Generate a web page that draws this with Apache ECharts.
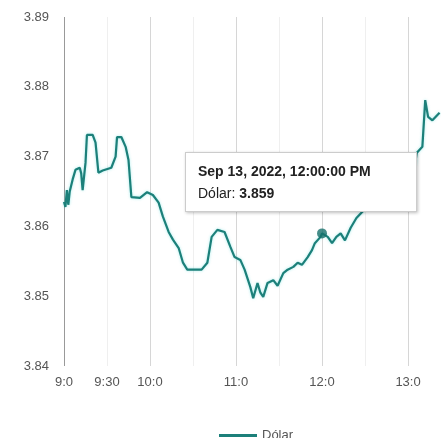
<!DOCTYPE html>
<html>
<head>
<meta charset="utf-8">
<script src="https://cdn.jsdelivr.net/npm/echarts@6/dist/echarts.min.js"></script>
<style>
  html, body { margin: 0; padding: 0; background: #fff; }
  #chart { width: 441px; height: 438px; }
</style>
</head>
<body>
<div id="chart"></div>
<script>
// times of day (Sep 13, 2022) and the dollar quote at each
const times = [
  '9:00', '9:01', '9:02', '9:03', '9:04', '9:06', '9:08', '9:11', '9:12', '9:13', '9:15', '9:16', '9:20',
  '9:22', '9:24', '9:27', '9:33', '9:36', '9:37', '9:40', '9:43', '9:45', '9:47',
  '9:53', '9:58', '10:02', '10:06', '10:09', '10:13', '10:16', '10:20', '10:23', '10:26',
  '10:36', '10:40', '10:43', '10:47', '10:52', '10:56', '10:59', '11:03', '11:06', '11:10',
  '11:12', '11:15', '11:17', '11:19', '11:22', '11:26', '11:29', '11:33', '11:36', '11:40',
  '11:43', '11:46', '11:50', '11:53', '11:55', '11:59', '12:00', '12:04', '12:07', '12:10',
  '12:13', '12:16', '12:20', '12:24', '12:30', '12:40', '12:50', '13:00', '13:05', '13:06',
  '13:10', '13:12', '13:14', '13:17', '13:22'
]
const dolar = [
  3.8635, 3.8628, 3.8652, 3.8631, 3.8650, 3.8667, 3.8681, 3.8684, 3.8676, 3.8652, 3.8691, 3.8731, 3.8731,
  3.8720, 3.8677, 3.8680, 3.8684, 3.8700, 3.8728, 3.8728, 3.8714, 3.8695, 3.8642,
  3.8641, 3.8649, 3.8645, 3.8634, 3.8614, 3.8592, 3.8581, 3.8569, 3.8548, 3.8538,
  3.8538, 3.8548, 3.8585, 3.8595, 3.8592, 3.8571, 3.8556, 3.8552, 3.8538, 3.8513,
  3.8497, 3.8519, 3.8505, 3.8499, 3.8519, 3.8523, 3.8515, 3.8533, 3.8538, 3.8542,
  3.8548, 3.8545, 3.8556, 3.8566, 3.8576, 3.8585, 3.8590, 3.8585, 3.8576, 3.8585,
  3.8590, 3.8580, 3.8598, 3.8612, 3.8625, 3.8640, 3.8660, 3.8675, 3.8690, 3.8705,
  3.8714, 3.8781, 3.8757, 3.8752, 3.8763
]
const yTicks = [3.84, 3.85, 3.86, 3.87, 3.88, 3.89]
const labelledTimes = ['9:00', '9:30', '10:00', '11:00', '12:00', '13:00']
const selectedTime = '12:00'
const seriesName = 'Dólar'

const toMin = (t) => {
  const [h, m] = t.split(':').map(Number)
  return (h - 9) * 60 + m
}
const points = times.map((t, i) => [toMin(t), dolar[i]])
const selIdx = times.indexOf(selectedTime)

const chart = echarts.init(document.getElementById('chart'))
const option = {
  animation: false,
  grid: { left: 64, right: 0, top: 17, bottom: 72 },
  xAxis: {
    type: 'value',
    min: 0,
    max: 263,
    interval: 30,
    axisLine: { show: false },
    axisTick: { show: false },
    axisLabel: {
      color: '#555',
      fontSize: 13,
      fontFamily: 'Liberation Sans',
      margin: 10,
      showMaxLabel: false,
      formatter: (v) => {
        const h = Math.floor(v / 60) + 9
        const m = v % 60
        const full = h + ':' + (m < 10 ? '0' + m : m)
        return labelledTimes.includes(full) ? h + ':' + m : ''
      }
    },
    splitLine: {
      show: true,
      lineStyle: {
        color: ['#999', '#efefef', '#d6d6d6', '#efefef', '#d6d6d6', '#efefef', '#d6d6d6', '#efefef', '#d6d6d6'],
        width: 1
      }
    }
  },
  yAxis: {
    type: 'value',
    min: yTicks[0],
    max: yTicks[yTicks.length - 1],
    interval: 0.01,
    axisLine: { show: false },
    axisTick: { show: false },
    splitLine: { show: false },
    axisLabel: {
      color: '#555',
      fontSize: 13,
      fontFamily: 'Liberation Sans',
      margin: 15,
      formatter: (v) => v.toFixed(2)
    }
  },
  legend: {
    left: 214,
    top: 424,
    icon: 'rect',
    itemWidth: 38,
    itemHeight: 3,
    itemGap: 6,
    textStyle: { color: '#555', fontSize: 13, fontFamily: 'Liberation Sans' },
    data: [seriesName]
  },
  tooltip: {
    trigger: 'item',
    triggerOn: 'none',
    alwaysShowContent: true,
    transitionDuration: 0,
    position: [185, 152],
    padding: [7, 12],
    borderColor: '#ccc',
    borderWidth: 1,
    backgroundColor: '#fff',
    extraCssText: 'box-shadow: 1px 1px 3px rgba(0,0,0,0.25); border-radius: 0; width: 206px;',
    textStyle: { fontFamily: 'Liberation Sans', fontSize: 14, color: '#222' },
    formatter: (p) =>
      '<div style="font-weight:bold;line-height:22px">Sep 13, 2022, 12:00:00 PM</div>' +
      '<div style="line-height:22px">' + seriesName + ': <b>' + p.value[1].toFixed(3) + '</b></div>'
  },
  series: [
    {
      name: seriesName,
      type: 'line',
      data: points,
      showSymbol: false,
      color: '#1c807a',
      lineStyle: { width: 2.2, color: '#1c807a', shadowColor: 'rgba(0,200,200,0.35)', shadowBlur: 3 },
      silent: true
    },
    {
      name: seriesName,
      type: 'scatter',
      data: [points[selIdx]],
      symbolSize: 10,
      itemStyle: { color: '#17706b' },
      z: 5
    }
  ]
}
chart.setOption(option)
chart.dispatchAction({ type: 'showTip', seriesIndex: 1, dataIndex: 0 })
</script>
</body>
</html>
